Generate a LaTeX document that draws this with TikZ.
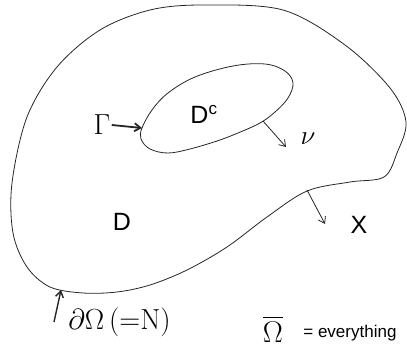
\documentclass[tikz,border=0pt]{standalone}
\usepackage{fix-cm}
\usepackage{amsmath}
\usepackage{amssymb}
\usepackage{fontspec}
\setsansfont{Liberation Sans}
\usepackage{tikz}
\usetikzlibrary{positioning, arrows.meta}
\usepackage{xcolor}

\begin{document}
\begin{tikzpicture}[x=1pt, y=-1pt, line width=0.8pt, draw=black!85,
  lbl/.style={font=\sffamily\fontsize{25}{25}\selectfont},
  mth/.style={font=\fontsize{29}{29}\selectfont},
  tip/.style={-{Straight Barb[length=6pt, width=8pt]}}]
\useasboundingbox (0,0) rectangle (407,350);
% outer boundary
\draw plot[smooth cycle, tension=0.55] coordinates {(203,5) (150,10) (100,30) (57,67) (27,117) (12,183) (13,233) (27,267) (50,287) (83,293) (117,292) (150,285) (187,270) (227,247) (267,217) (307,191) (350,182) (384,177) (397,153) (406,122) (390,88) (345,45) (283,10)};
% inner hole
\draw plot[smooth cycle, tension=0.6] coordinates {(142,128) (152,110) (168,93) (195,77) (233,66) (265,64) (285,71) (293,83) (288,98) (275,112) (260,123) (238,133) (217,141) (190,149) (168,153) (150,149) (141,139)};
\coordinate (gin) at (142,128);
\coordinate (nufoot) at (263,121);
\coordinate (nutip) at (286,147);
\coordinate (xfoot) at (307,190);
\coordinate (xtip) at (325,224);
\coordinate (bfoot) at (61,290);
\node[mth, inner sep=1pt] (gamma) at (102,125) {$\Gamma$};
\node[lbl] (dc) at (204,114) {D\textsuperscript{\fontsize{17}{17}\selectfont c}};
\node[mth, font=\fontsize{27}{27}\selectfont] (nu) at (308,139) {$\nu$};
\node[lbl] (d) at (122,222) {D};
\node[lbl] (x) at (359,225) {X};
\node[mth, anchor=west, inner sep=0pt] (bdry) at (68,322) {$\partial\Omega\,({=}\mathrm{N})$};
\node[mth, font=\fontsize{30}{30}\selectfont, inner sep=0pt] (omegabar) at (273,329) {$\overline{\Omega}$};
\node[font=\sffamily\fontsize{17}{17}\selectfont, anchor=west, inner sep=0pt] (every) at (303,333) {= everything};
\draw[tip, line width=1.8pt] (gamma.east) -- (gin);
\draw[tip] (nufoot) -- (nutip);
\draw[tip] (xfoot) -- (xtip);
\draw[tip, line width=1.4pt] (bdry.west) ++(-14,0) -- (bfoot);
\end{tikzpicture}
\end{document}
